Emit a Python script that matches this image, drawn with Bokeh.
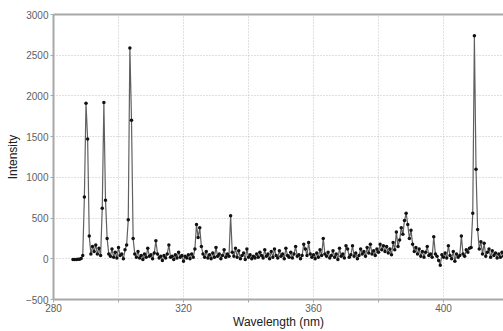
from bokeh.plotting import figure
from bokeh.models import FixedTicker, Range1d, LinearAxis
from bokeh.embed import file_html
from bokeh.resources import INLINE

# Sampling grid of the spectrum (nm)
wl_start = 286.0
wl_step = 0.5

# Intensity values, one per 0.5 nm from 286.0 nm
intensity = [
    # 286.0 - 295.5
    -8, -10, -8, -5, -6, 5, 40, 760, 1910, 1470, 280, 60, 150, 90, 170, 60, 130, 40, 620, 1920,
    # 296.0 - 305.5
    720, 250, 60, 30, 120, 20, 80, 10, 140, 40, 60, 0, 110, 170, 480, 2590, 1700, 250, 60, 20,
    # 306.0 - 315.5
    90, 10, 40, -10, 60, 20, 130, 30, 50, 0, 70, 220, 60, 10, 30, -20, 40, 10, 60, 170,
    # 316.0 - 325.5
    20, 30, -10, 50, 10, 80, 20, 40, -30, 30, 10, 50, 0, 60, 20, 120, 420, 260, 380, 150,
    # 326.0 - 335.5
    60, 20, 90, 10, 50, 0, 70, 20, 140, 30, 60, 0, 40, 110, 20, 60, 30, 530, 80, 30,
    # 336.0 - 345.5
    130, 20, 100, 0, 40, 70, -10, 120, 20, 50, 0, 30, 10, 60, 20, 80, 40, 10, 110, 30,
    # 346.0 - 355.5
    60, 0, 90, 20, 120, 40, 10, 100, 30, 60, 0, 130, 40, 20, 80, 10, 60, 150, 30, 50,
    # 356.0 - 365.5
    0, 40, 180, 120, 40, 200, 60, 20, 50, 0, 70, 20, 110, 40, 250, 60, 30, 80, 10, 40,
    # 366.0 - 375.5
    100, 20, 60, -10, 130, 30, 60, 10, 160, 120, 20, 50, 160, 30, 70, 0, 40, 120, 60, 90,
    # 376.0 - 385.5
    30, 140, 70, 180, 60, 100, 40, 120, 80, 180, 110, 160, 90, 150, 70, 120, 50, 200, 110, 330,
    # 386.0 - 395.5
    150, 230, 380, 300, 470, 560, 420, 250, 350, 180, 90, 140, 60, 120, 30, 90, 20, 80, 150, 40,
    # 396.0 - 405.5
    60, 20, 270, 60, 30, -20, -80, 50, 20, 70, 10, 160, 40, 0, 90, -30, 60, 20, 40, 280,
    # 406.0 - 415.5
    60, 30, 110, 80, 130, 140, 560, 2740, 1100, 360, 120, 210, 60, 190, 30, 80, 120, 20, 100, 40,
    # 416.0 - 420.0
    70, 10, 60, 20, 80, 30, 50, 10, 60,
]
wavelength = [wl_start + i * wl_step for i in range(len(intensity))]

x_ticks = [280, 300, 320, 340, 360, 380, 400, 420]
x_tick_labels = {280: "280", 300: "", 320: "320", 340: "", 360: "360", 380: "", 400: "400", 420: ""}
x_grid = [300, 320, 340, 360, 380, 400]
y_ticks = [-500, 0, 500, 1000, 1500, 2000, 2500, 3000]
y_grid = [0, 500, 1000, 1500, 2000, 2500]

x_title = "Wavelength (nm)"
y_title = "Intensity"

FONT = "Liberation Sans"
AXIS_COLOR = "#a8a8a8"

p = figure(width=503, height=331,
           x_range=Range1d(280, 418.46), y_range=Range1d(-500, 3000),
           output_backend="svg", toolbar_location=None,
           min_border_left=53, min_border_right=0,
           min_border_top=14, min_border_bottom=32)

p.background_fill_color = "white"
p.border_fill_color = "white"
p.outline_line_color = None

bottom = p.below[0]
left = p.left[0]

for ax in (bottom, left):
    ax.axis_line_color = AXIS_COLOR
    ax.axis_line_width = 2
    ax.major_tick_line_color = AXIS_COLOR
    ax.major_tick_in = 0
    ax.major_tick_out = 3
    ax.minor_tick_line_color = None
    ax.major_label_text_font = FONT
    ax.major_label_text_font_size = "10px"
    ax.major_label_text_color = "#606060"
    ax.axis_label_text_font = FONT
    ax.axis_label_text_font_size = "12px"
    ax.axis_label_text_font_style = "normal"
    ax.axis_label_text_color = "#202020"

bottom.ticker = FixedTicker(ticks=x_ticks)
bottom.major_label_overrides = x_tick_labels
bottom.major_label_standoff = 1
bottom.axis_label = x_title
bottom.axis_label_standoff = 0
left.ticker = FixedTicker(ticks=y_ticks)
left.major_label_standoff = 2
left.axis_label = y_title
left.axis_label_standoff = 3

# top frame line drawn as a bare axis
top = LinearAxis(ticker=FixedTicker(ticks=[]), axis_line_color=AXIS_COLOR, axis_line_width=2,
                 major_tick_out=0, major_tick_in=0, minor_tick_out=0, minor_tick_in=0,
                 major_label_text_font_size="0px")
p.add_layout(top, "above")

p.xgrid.ticker = FixedTicker(ticks=x_grid)
p.ygrid.ticker = FixedTicker(ticks=y_grid)
for g in (p.xgrid[0], p.ygrid[0]):
    g.grid_line_color = "#c0c0c0"
    g.grid_line_dash = "1 2"
    g.grid_line_width = 1

p.line(wavelength, intensity, line_color="#606060", line_width=1.2)
p.scatter(wavelength, intensity, size=3.5, fill_color="#111111", line_color=None)

open("out.html", "w").write(file_html(p, INLINE))
